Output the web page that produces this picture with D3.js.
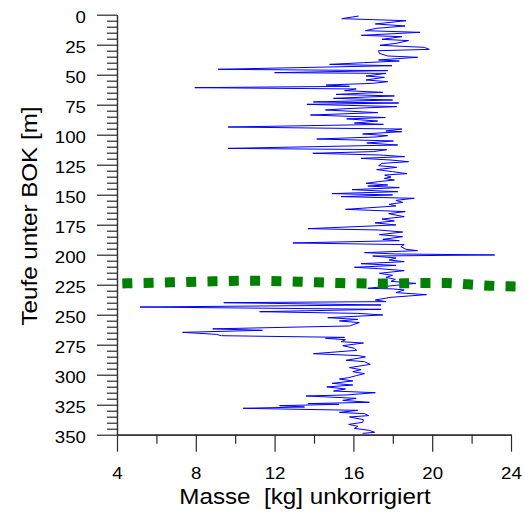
<!DOCTYPE html>
<html>
<head>
<meta charset="utf-8">
<script src="https://cdn.jsdelivr.net/npm/d3@7"></script>
<style>
  html, body { margin: 0; padding: 0; background: #fff; }
  svg { display: block; }
  text { font-family: "Liberation Sans", Arial, Helvetica, sans-serif; fill: #000; }
</style>
</head>
<body>
<svg id="chart" width="525" height="512"></svg>
<script>
// ---- data ----
const depth = [1.1,3.3,5.0,7.7,9.4,11.4,13.3,14.7,17.2,18.3,20.5,21.6,23.9,25.5,27.2,28.9,30.0,32.2,34.4,35.5,37.7,38.6,40.0,41.4,42.5,45.5,46.6,48.3,48.9,51.1,52.2,54.4,55.8,57.2,58.6,59.7,60.8,61.9,63.3,64.7,66.4,67.7,69.7,71.1,72.7,73.6,74.7,76.6,78.3,79.4,81.6,83.6,85.7,86.8,88.6,90.3,91.4,93.6,95.3,96.9,97.5,99.4,100.8,101.9,103.6,105.2,106.9,108.6,111.4,112.5,114.1,115.5,116.9,118.3,119.7,121.1,122.5,123.9,125.8,127.2,129.1,130.8,132.5,133.6,135.3,136.4,137.8,139.1,140.5,141.9,142.8,144.1,145.8,147.5,149.1,150.2,151.6,153.0,154.7,156.4,158.0,159.4,162.2,164.1,165.8,168.3,170.3,171.9,173.5,175.2,178.3,179.4,181.1,183.3,185.0,187.2,188.3,190.2,191.6,193.3,195.5,196.6,198.3,199.4,200.2,201.1,202.7,204.4,205.8,207.5,208.9,210.5,211.6,213.3,215.5,217.2,218.9,220.5,222.2,223.9,225.5,228.0,228.5,229.4,231.6,233.3,235.5,237.7,239.1,240.0,241.9,243.6,245.5,247.5,248.9,250.2,252.5,253.9,255.2,256.6,259.4,261.8,263.0,264.7,266.4,267.5,268.9,269.7,270.8,272.5,273.6,275.8,278.0,279.7,282.5,284.1,285.2,288.0,289.1,291.4,294.1,295.8,297.5,299.1,300.8,302.5,303.6,305.2,307.2,308.6,310.2,311.9,313.6,315.0,316.9,317.7,319.7,321.4,323.0,324.1,324.7,325.8,326.9,328.0,329.7,331.4,332.5,334.1,335.2,337.5,339.7,341.4,343.0,344.7,346.4,348.0,348.9];
const masse = [16.27,15.41,18.67,17.11,18.62,17.15,16.61,19.38,16.40,18.46,17.45,18.80,18.16,17.35,19.60,19.85,17.28,17.31,17.74,19.26,17.28,18.33,16.51,14.79,17.96,9.13,17.74,12.00,17.65,16.64,17.57,16.64,17.74,16.98,14.62,15.80,7.95,16.14,15.55,17.49,15.12,18.08,14.99,17.99,13.97,18.30,13.64,18.20,15.63,14.58,17.23,13.82,17.62,15.66,17.23,16.05,17.52,9.64,18.46,17.65,18.46,16.47,17.74,17.15,14.14,18.03,16.68,18.25,9.64,17.69,17.01,13.94,17.32,18.60,16.39,17.91,18.80,17.45,17.28,18.20,17.18,17.99,18.72,17.59,17.91,17.57,18.08,17.28,16.64,17.74,16.73,18.33,15.93,18.25,14.92,17.99,15.38,19.09,18.16,18.50,17.82,18.16,15.60,18.63,17.79,18.58,17.45,18.08,17.10,18.16,13.69,17.28,18.50,17.32,18.50,17.49,18.33,12.93,18.58,18.41,18.67,19.26,16.56,18.16,23.17,16.98,18.16,17.82,18.58,16.39,18.16,16.05,17.28,18.58,17.32,17.99,17.65,18.13,17.91,19.17,18.16,16.73,18.00,18.58,18.16,19.71,17.91,17.11,17.65,9.42,17.40,5.17,17.40,11.24,16.22,17.49,14.70,16.22,15.29,16.30,15.80,8.86,11.38,7.33,9.05,9.30,15.55,14.58,15.60,15.38,16.51,15.46,16.05,16.17,13.97,16.27,16.61,15.63,16.56,16.85,15.80,16.39,15.97,16.56,16.14,15.76,15.29,15.97,14.92,15.97,14.65,15.60,14.99,17.11,15.63,13.60,16.14,15.46,16.81,13.69,15.26,12.25,13.52,10.40,16.22,15.29,16.56,16.78,15.80,16.51,16.47,15.76,16.22,16.05,16.81,17.08,16.47];

const trendMasse = [4.27,6.70,8.86,11.02,13.20,15.34,17.50,19.66,20.74,21.82,22.90,24.27];
const trendDepth = [223.9,223.0,222.2,221.7,222.5,223.6,224.1,223.6,223.6,224.7,225.8,226.5];

const xTicks = [4,8,12,16,20,24];
const xMinorTicks = [6,10,14,18,22];
const yTicks = [0,25,50,75,100,125,150,175,200,225,250,275,300,325,350];
const yMinorTicks = d3.range(0,351,5).filter(v => v % 25 !== 0);

const xTitle = "Masse  [kg] unkorrigiert";
const yTitle = "Teufe unter BOK [m]";

// ---- scales ----
const svg = d3.select("#chart");
const x = d3.scaleLinear().domain([4,24]).range([117,511]);
const y = d3.scaleLinear().domain([0,350]).range([14.7,434.7]);

const axisColor = "#2a2a2a";

// minor ticks
const yMinor = svg.append("g").attr("transform","translate(117,0)")
  .call(d3.axisLeft(y).tickValues(yMinorTicks).tickSize(10).tickFormat("").tickSizeOuter(0));
const xMinor = svg.append("g").attr("transform","translate(0,434.7)")
  .call(d3.axisBottom(x).tickValues(xMinorTicks).tickSize(9).tickFormat("").tickSizeOuter(0));

// major axes
const yAxis = svg.append("g").attr("transform","translate(117,0)")
  .call(d3.axisLeft(y).tickValues(yTicks).tickSize(20).tickPadding(11).tickSizeOuter(0));
const xAxis = svg.append("g").attr("transform","translate(0,434.7)")
  .call(d3.axisBottom(x).tickValues(xTicks).tickSize(17).tickSizeOuter(0));

[yMinor,xMinor,yAxis,xAxis].forEach(g => {
  g.selectAll("path.domain").attr("stroke", axisColor).attr("stroke-width",1.2);
  g.selectAll(".tick line").attr("stroke", axisColor).attr("stroke-width",1.2);
});

yAxis.selectAll(".tick text")
  .attr("font-family", '"Liberation Sans", Arial, sans-serif')
  .attr("font-size", 17)
  .attr("fill","#000")
  .attr("x", -31/1.1)
  .attr("dy", "0.44em")
  .attr("transform","scale(1.1,1)");

xAxis.selectAll(".tick text")
  .attr("font-family", '"Liberation Sans", Arial, sans-serif')
  .attr("font-size", 17)
  .attr("fill","#000")
  .attr("y", 44)
  .attr("dy", 0)
  .attr("transform","scale(1.1,1)");

// axis titles
svg.append("text")
  .attr("transform","translate(305,503.5) scale(1.1,1)")
  .attr("text-anchor","middle")
  .attr("font-size",22)
  .style("white-space","pre")
  .text(xTitle);

svg.append("text")
  .attr("transform","translate(37,216) rotate(-90) scale(1.1,1)")
  .attr("text-anchor","middle")
  .attr("font-size",22)
  .text(yTitle);

// blue profile line
const pts = depth.map((d,i) => [masse[i], d]);
svg.append("path")
  .datum(pts)
  .attr("fill","none")
  .attr("stroke","#0000ff")
  .attr("stroke-width",1)
  .attr("d", d3.line().x(p => x(p[0])).y(p => y(p[1])));

// green dashed trend line
const tpts = trendMasse.map((m,i) => [m, trendDepth[i]]);
svg.append("path")
  .datum(tpts)
  .attr("fill","none")
  .attr("stroke","#008000")
  .attr("stroke-width",10)
  .attr("stroke-dasharray","10,11.3")
  .attr("d", d3.line().curve(d3.curveMonotoneX).x(p => x(p[0])).y(p => y(p[1])));
</script>
</body>
</html>
